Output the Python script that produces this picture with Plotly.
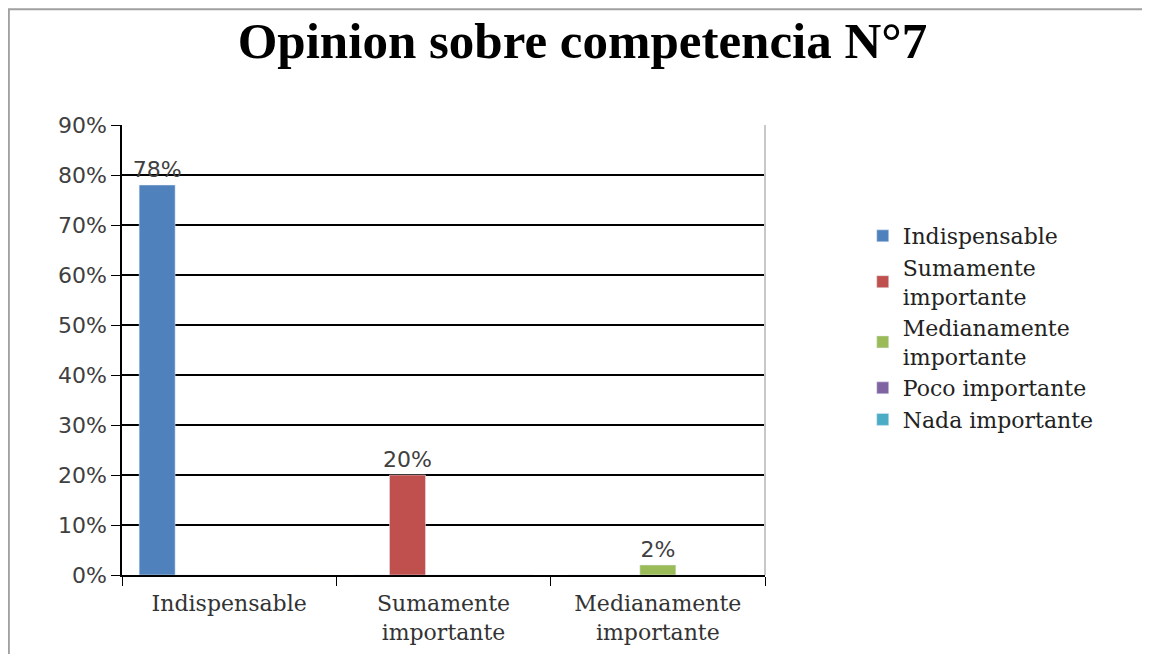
import plotly.graph_objects as go

categorias = ["Indispensable", "Sumamente<br>importante", "Medianamente<br>importante"]
series = ["Indispensable", "Sumamente<br>importante", "Medianamente<br>importante",
          "Poco importante", "Nada importante"]
indispensable = [0.78, 0, 0]
sumamente = [0, 0.20, 0]
medianamente = [0, 0, 0.02]
poco = [0, 0, 0]
nada = [0, 0, 0]
valores = [indispensable, sumamente, medianamente, poco, nada]
colores = ["#4F81BD", "#C0504D", "#9BBB59", "#8064A2", "#4BACC6"]

fig = go.Figure()
for nombre, vals, col in zip(series, valores, colores):
    fig.add_trace(go.Bar(
        x=categorias, y=vals, name=nombre, marker_color=col,
        text=[f"{round(v*100)}%" if v > 0 else "" for v in vals],
        textposition="outside", cliponaxis=False, constraintext="none",
        textfont=dict(family="DejaVu Sans", size=22, color="#404040"),
    ))

# the page adds an 8px body margin, so the figure is drawn 8px smaller
fig.update_layout(
    width=1142, height=646,
    paper_bgcolor="white", plot_bgcolor="white",
    margin=dict(l=114, r=385, t=117, b=79),
    barmode="group", bargap=0.16, bargroupgap=0,
    title=dict(text="<b>Opinion sobre competencia N°7</b>", x=0.503, xanchor="center",
               y=0.95, yanchor="middle",
               font=dict(family="Liberation Serif", size=51, color="black")),
    legend=dict(x=1.152, xanchor="left", y=0.8, yanchor="top",
                font=dict(family="DejaVu Serif", size=22, color="#222"),
                tracegroupgap=0, itemwidth=30),
    shapes=[
        dict(type="line", xref="paper", yref="paper", x0=1, x1=1, y0=0, y1=1,
             line=dict(color="#c8c8c8", width=2)),
        dict(type="rect", xref="paper", yref="paper", x0=-0.176, x1=1.8, y0=-0.3, y1=1.257,
             line=dict(color="#a0a0a0", width=2)),
    ],
)
fig.update_yaxes(range=[0, 0.9], dtick=0.1, tickformat=".0%",
                 showgrid=True, gridcolor="black", gridwidth=1.5,
                 showline=True, linecolor="black", linewidth=1.5,
                 ticks="outside", ticklen=9, tickcolor="black",
                 tickfont=dict(family="DejaVu Sans", size=22, color="#404040"),
                 zeroline=False, automargin=False)
fig.update_xaxes(showline=True, linecolor="black", linewidth=1.5,
                 ticks="outside", tickson="boundaries", ticklen=9, tickcolor="black",
                 ticklabelstandoff=8, automargin=False,
                 tickfont=dict(family="DejaVu Serif", size=22, color="#333"))

fig.write_html("out.html")
